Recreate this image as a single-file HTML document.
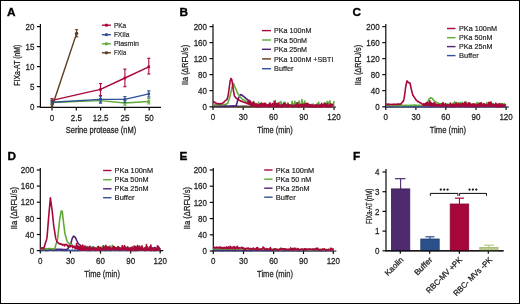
<!DOCTYPE html><html><head><meta charset="utf-8"><style>html,body{margin:0;padding:0;background:#fff;}svg{display:block;will-change:transform;}</style></head><body><svg width="520" height="304" viewBox="0 0 520 304" font-family="Liberation Sans, sans-serif">
<rect x="0" y="0" width="520" height="304" fill="#fff"/>
<rect x="0.5" y="0.5" width="519" height="303" fill="none" stroke="#000" stroke-width="1"/>
<text x="6.9" y="16.0" font-size="11.8" text-anchor="start" font-weight="bold" fill="#000" stroke="#000" stroke-width="0.35" >A</text>
<line x1="40.4" y1="24" x2="40.4" y2="107.3" stroke="#0a0a0a" stroke-width="1.2"/>
<line x1="36.9" y1="26.6" x2="40.4" y2="26.6" stroke="#0a0a0a" stroke-width="1.2"/>
<text x="34.5" y="29.700000000000003" font-size="9.2" text-anchor="end" textLength="8.9" lengthAdjust="spacingAndGlyphs" fill="#231f20" stroke="#231f20" stroke-width="0.28" >20</text>
<line x1="36.9" y1="46.6" x2="40.4" y2="46.6" stroke="#0a0a0a" stroke-width="1.2"/>
<text x="34.5" y="49.7" font-size="9.2" text-anchor="end" textLength="8.9" lengthAdjust="spacingAndGlyphs" fill="#231f20" stroke="#231f20" stroke-width="0.28" >15</text>
<line x1="36.9" y1="66.6" x2="40.4" y2="66.6" stroke="#0a0a0a" stroke-width="1.2"/>
<text x="34.5" y="69.69999999999999" font-size="9.2" text-anchor="end" textLength="8.9" lengthAdjust="spacingAndGlyphs" fill="#231f20" stroke="#231f20" stroke-width="0.28" >10</text>
<line x1="36.9" y1="86.6" x2="40.4" y2="86.6" stroke="#0a0a0a" stroke-width="1.2"/>
<text x="34.5" y="89.69999999999999" font-size="9.2" text-anchor="end" textLength="4.45" lengthAdjust="spacingAndGlyphs" fill="#231f20" stroke="#231f20" stroke-width="0.28" >5</text>
<line x1="36.9" y1="106.8" x2="40.4" y2="106.8" stroke="#0a0a0a" stroke-width="1.2"/>
<text x="34.5" y="109.89999999999999" font-size="9.2" text-anchor="end" textLength="4.45" lengthAdjust="spacingAndGlyphs" fill="#231f20" stroke="#231f20" stroke-width="0.28" >0</text>
<line x1="39.9" y1="107.4" x2="161" y2="107.4" stroke="#0a0a0a" stroke-width="1.2"/>
<line x1="52" y1="107.4" x2="52" y2="110.4" stroke="#0a0a0a" stroke-width="1.2"/>
<text x="52" y="120.5" font-size="9.2" text-anchor="middle" textLength="4.45" lengthAdjust="spacingAndGlyphs" fill="#231f20" stroke="#231f20" stroke-width="0.28" >0</text>
<line x1="76.3" y1="107.4" x2="76.3" y2="110.4" stroke="#0a0a0a" stroke-width="1.2"/>
<text x="76.3" y="120.5" font-size="9.2" text-anchor="middle" textLength="11.12" lengthAdjust="spacingAndGlyphs" fill="#231f20" stroke="#231f20" stroke-width="0.28" >2.5</text>
<line x1="100.6" y1="107.4" x2="100.6" y2="110.4" stroke="#0a0a0a" stroke-width="1.2"/>
<text x="100.6" y="120.5" font-size="9.2" text-anchor="middle" textLength="15.57" lengthAdjust="spacingAndGlyphs" fill="#231f20" stroke="#231f20" stroke-width="0.28" >12.5</text>
<line x1="124.9" y1="107.4" x2="124.9" y2="110.4" stroke="#0a0a0a" stroke-width="1.2"/>
<text x="124.9" y="120.5" font-size="9.2" text-anchor="middle" textLength="8.9" lengthAdjust="spacingAndGlyphs" fill="#231f20" stroke="#231f20" stroke-width="0.28" >25</text>
<line x1="149.2" y1="107.4" x2="149.2" y2="110.4" stroke="#0a0a0a" stroke-width="1.2"/>
<text x="149.2" y="120.5" font-size="9.2" text-anchor="middle" textLength="8.9" lengthAdjust="spacingAndGlyphs" fill="#231f20" stroke="#231f20" stroke-width="0.28" >50</text>
<text x="101" y="133.1" font-size="9.2" text-anchor="middle" textLength="70.4" lengthAdjust="spacingAndGlyphs" fill="#231f20" stroke="#231f20" stroke-width="0.28" >Serine protease (nM)</text>
<text x="20.1" y="65.2" font-size="8.8" text-anchor="middle" textLength="41" lengthAdjust="spacingAndGlyphs" fill="#231f20" transform="rotate(-90 20.1 65.2)" stroke="#231f20" stroke-width="0.28">FIXa-AT (nM)</text>
<polyline points="52.00,102.50 100.50,100.60 124.90,103.00 148.80,101.50" fill="none" stroke="#62aa3a" stroke-width="1.4" stroke-linejoin="round" />
<line x1="52" y1="101" x2="52" y2="104" stroke="#62aa3a" stroke-width="1.1"/>
<line x1="50.4" y1="101" x2="53.6" y2="101" stroke="#62aa3a" stroke-width="1.1"/>
<line x1="50.4" y1="104" x2="53.6" y2="104" stroke="#62aa3a" stroke-width="1.1"/>
<rect x="50.7" y="101.2" width="2.6" height="2.6" fill="#62aa3a"/>
<line x1="100.5" y1="98.3" x2="100.5" y2="103" stroke="#62aa3a" stroke-width="1.1"/>
<line x1="98.9" y1="98.3" x2="102.1" y2="98.3" stroke="#62aa3a" stroke-width="1.1"/>
<line x1="98.9" y1="103" x2="102.1" y2="103" stroke="#62aa3a" stroke-width="1.1"/>
<rect x="99.2" y="99.3" width="2.6" height="2.6" fill="#62aa3a"/>
<line x1="124.9" y1="100.5" x2="124.9" y2="105.2" stroke="#62aa3a" stroke-width="1.1"/>
<line x1="123.30000000000001" y1="100.5" x2="126.5" y2="100.5" stroke="#62aa3a" stroke-width="1.1"/>
<line x1="123.30000000000001" y1="105.2" x2="126.5" y2="105.2" stroke="#62aa3a" stroke-width="1.1"/>
<rect x="123.60000000000001" y="101.7" width="2.6" height="2.6" fill="#62aa3a"/>
<line x1="148.8" y1="98.5" x2="148.8" y2="103.9" stroke="#62aa3a" stroke-width="1.1"/>
<line x1="147.20000000000002" y1="98.5" x2="150.4" y2="98.5" stroke="#62aa3a" stroke-width="1.1"/>
<line x1="147.20000000000002" y1="103.9" x2="150.4" y2="103.9" stroke="#62aa3a" stroke-width="1.1"/>
<rect x="147.5" y="100.2" width="2.6" height="2.6" fill="#62aa3a"/>
<polyline points="52.00,102.20 100.50,99.40 124.90,99.40 148.80,93.90" fill="none" stroke="#2f5195" stroke-width="1.4" stroke-linejoin="round" />
<line x1="52" y1="100" x2="52" y2="104.2" stroke="#2f5195" stroke-width="1.1"/>
<line x1="50.4" y1="100" x2="53.6" y2="100" stroke="#2f5195" stroke-width="1.1"/>
<line x1="50.4" y1="104.2" x2="53.6" y2="104.2" stroke="#2f5195" stroke-width="1.1"/>
<rect x="50.7" y="100.9" width="2.6" height="2.6" fill="#2f5195"/>
<line x1="100.5" y1="96" x2="100.5" y2="103" stroke="#2f5195" stroke-width="1.1"/>
<line x1="98.9" y1="96" x2="102.1" y2="96" stroke="#2f5195" stroke-width="1.1"/>
<line x1="98.9" y1="103" x2="102.1" y2="103" stroke="#2f5195" stroke-width="1.1"/>
<rect x="99.2" y="98.10000000000001" width="2.6" height="2.6" fill="#2f5195"/>
<line x1="124.9" y1="96.6" x2="124.9" y2="102.4" stroke="#2f5195" stroke-width="1.1"/>
<line x1="123.30000000000001" y1="96.6" x2="126.5" y2="96.6" stroke="#2f5195" stroke-width="1.1"/>
<line x1="123.30000000000001" y1="102.4" x2="126.5" y2="102.4" stroke="#2f5195" stroke-width="1.1"/>
<rect x="123.60000000000001" y="98.10000000000001" width="2.6" height="2.6" fill="#2f5195"/>
<line x1="148.8" y1="90.8" x2="148.8" y2="97" stroke="#2f5195" stroke-width="1.1"/>
<line x1="147.20000000000002" y1="90.8" x2="150.4" y2="90.8" stroke="#2f5195" stroke-width="1.1"/>
<line x1="147.20000000000002" y1="97" x2="150.4" y2="97" stroke="#2f5195" stroke-width="1.1"/>
<rect x="147.5" y="92.60000000000001" width="2.6" height="2.6" fill="#2f5195"/>
<polyline points="52.00,100.40 100.50,89.40 124.90,78.00 148.80,66.80" fill="none" stroke="#a8083a" stroke-width="1.4" stroke-linejoin="round" />
<line x1="50.4" y1="98.6" x2="53.6" y2="98.6" stroke="#a8083a" stroke-width="1.1"/>
<rect x="51.2" y="99.60000000000001" width="1.6" height="1.6" fill="#a8083a"/>
<line x1="100.5" y1="83.6" x2="100.5" y2="95.7" stroke="#a8083a" stroke-width="1.1"/>
<line x1="98.9" y1="83.6" x2="102.1" y2="83.6" stroke="#a8083a" stroke-width="1.1"/>
<line x1="98.9" y1="95.7" x2="102.1" y2="95.7" stroke="#a8083a" stroke-width="1.1"/>
<rect x="99.2" y="88.10000000000001" width="2.6" height="2.6" fill="#a8083a"/>
<line x1="124.9" y1="69.1" x2="124.9" y2="86.7" stroke="#a8083a" stroke-width="1.1"/>
<line x1="123.30000000000001" y1="69.1" x2="126.5" y2="69.1" stroke="#a8083a" stroke-width="1.1"/>
<line x1="123.30000000000001" y1="86.7" x2="126.5" y2="86.7" stroke="#a8083a" stroke-width="1.1"/>
<rect x="123.60000000000001" y="76.7" width="2.6" height="2.6" fill="#a8083a"/>
<line x1="148.8" y1="58.3" x2="148.8" y2="74" stroke="#a8083a" stroke-width="1.1"/>
<line x1="147.20000000000002" y1="58.3" x2="150.4" y2="58.3" stroke="#a8083a" stroke-width="1.1"/>
<line x1="147.20000000000002" y1="74" x2="150.4" y2="74" stroke="#a8083a" stroke-width="1.1"/>
<rect x="147.5" y="65.5" width="2.6" height="2.6" fill="#a8083a"/>
<polyline points="52.00,107.00 76.60,33.40" fill="none" stroke="#5e3b1c" stroke-width="1.4" stroke-linejoin="round" />
<line x1="76.6" y1="29.7" x2="76.6" y2="36.8" stroke="#5e3b1c" stroke-width="1.1"/>
<line x1="75.0" y1="29.7" x2="78.19999999999999" y2="29.7" stroke="#5e3b1c" stroke-width="1.1"/>
<line x1="75.0" y1="36.8" x2="78.19999999999999" y2="36.8" stroke="#5e3b1c" stroke-width="1.1"/>
<circle cx="76.6" cy="33.4" r="1.7" fill="#5e3b1c"/>
<rect x="50.7" y="105.2" width="2.6" height="2.6" fill="#5e3b1c"/>
<line x1="101.9" y1="25.2" x2="110.9" y2="25.2" stroke="#a8083a" stroke-width="1.4"/>
<text x="113.9" y="27.8" font-size="7.9" text-anchor="start" textLength="12.3" lengthAdjust="spacingAndGlyphs" fill="#231f20" stroke="#231f20" stroke-width="0.2" >PKa</text>
<line x1="101.9" y1="34.7" x2="110.9" y2="34.7" stroke="#2f5195" stroke-width="1.4"/>
<text x="113.9" y="37.300000000000004" font-size="7.9" text-anchor="start" textLength="15.5" lengthAdjust="spacingAndGlyphs" fill="#231f20" stroke="#231f20" stroke-width="0.2" >FXIIa</text>
<line x1="101.9" y1="43.8" x2="110.9" y2="43.8" stroke="#62aa3a" stroke-width="1.4"/>
<text x="113.9" y="46.4" font-size="7.9" text-anchor="start" textLength="25.1" lengthAdjust="spacingAndGlyphs" fill="#231f20" stroke="#231f20" stroke-width="0.2" >Plasmin</text>
<line x1="101.9" y1="52.8" x2="110.9" y2="52.8" stroke="#5e3b1c" stroke-width="1.4"/>
<text x="113.9" y="55.4" font-size="7.9" text-anchor="start" textLength="12.3" lengthAdjust="spacingAndGlyphs" fill="#231f20" stroke="#231f20" stroke-width="0.2" >FXIa</text>
<rect x="105.0" y="23.8" width="2.8" height="2.8" fill="#a8083a"/>
<rect x="105.0" y="33.300000000000004" width="2.8" height="2.8" fill="#2f5195"/>
<rect x="105.0" y="42.4" width="2.8" height="2.8" fill="#62aa3a"/>
<rect x="105.0" y="51.4" width="2.8" height="2.8" fill="#5e3b1c"/>
<text x="179.6" y="16.3" font-size="11.8" text-anchor="start" font-weight="bold" fill="#000" stroke="#000" stroke-width="0.35" >B</text>
<line x1="213" y1="24.2" x2="213" y2="107.3" stroke="#0a0a0a" stroke-width="1.2"/>
<line x1="209.5" y1="26.6" x2="213" y2="26.6" stroke="#0a0a0a" stroke-width="1.2"/>
<text x="207" y="29.700000000000003" font-size="9.2" text-anchor="end" textLength="13.35" lengthAdjust="spacingAndGlyphs" fill="#231f20" stroke="#231f20" stroke-width="0.28" >200</text>
<line x1="209.5" y1="42.6" x2="213" y2="42.6" stroke="#0a0a0a" stroke-width="1.2"/>
<text x="207" y="45.7" font-size="9.2" text-anchor="end" textLength="13.35" lengthAdjust="spacingAndGlyphs" fill="#231f20" stroke="#231f20" stroke-width="0.28" >160</text>
<line x1="209.5" y1="58.6" x2="213" y2="58.6" stroke="#0a0a0a" stroke-width="1.2"/>
<text x="207" y="61.7" font-size="9.2" text-anchor="end" textLength="13.35" lengthAdjust="spacingAndGlyphs" fill="#231f20" stroke="#231f20" stroke-width="0.28" >120</text>
<line x1="209.5" y1="74.6" x2="213" y2="74.6" stroke="#0a0a0a" stroke-width="1.2"/>
<text x="207" y="77.69999999999999" font-size="9.2" text-anchor="end" textLength="8.9" lengthAdjust="spacingAndGlyphs" fill="#231f20" stroke="#231f20" stroke-width="0.28" >80</text>
<line x1="209.5" y1="90.6" x2="213" y2="90.6" stroke="#0a0a0a" stroke-width="1.2"/>
<text x="207" y="93.69999999999999" font-size="9.2" text-anchor="end" textLength="8.9" lengthAdjust="spacingAndGlyphs" fill="#231f20" stroke="#231f20" stroke-width="0.28" >40</text>
<line x1="209.5" y1="106.8" x2="213" y2="106.8" stroke="#0a0a0a" stroke-width="1.2"/>
<text x="207" y="109.89999999999999" font-size="9.2" text-anchor="end" textLength="4.45" lengthAdjust="spacingAndGlyphs" fill="#231f20" stroke="#231f20" stroke-width="0.28" >0</text>
<line x1="212.5" y1="107" x2="336" y2="107" stroke="#0a0a0a" stroke-width="1.2"/>
<line x1="213" y1="107" x2="213" y2="110" stroke="#0a0a0a" stroke-width="1.2"/>
<text x="213" y="120.1" font-size="9.2" text-anchor="middle" textLength="4.45" lengthAdjust="spacingAndGlyphs" fill="#231f20" stroke="#231f20" stroke-width="0.28" >0</text>
<line x1="243.2" y1="107" x2="243.2" y2="110" stroke="#0a0a0a" stroke-width="1.2"/>
<text x="243.2" y="120.1" font-size="9.2" text-anchor="middle" textLength="8.9" lengthAdjust="spacingAndGlyphs" fill="#231f20" stroke="#231f20" stroke-width="0.28" >30</text>
<line x1="273.5" y1="107" x2="273.5" y2="110" stroke="#0a0a0a" stroke-width="1.2"/>
<text x="273.5" y="120.1" font-size="9.2" text-anchor="middle" textLength="8.9" lengthAdjust="spacingAndGlyphs" fill="#231f20" stroke="#231f20" stroke-width="0.28" >60</text>
<line x1="303.8" y1="107" x2="303.8" y2="110" stroke="#0a0a0a" stroke-width="1.2"/>
<text x="303.8" y="120.1" font-size="9.2" text-anchor="middle" textLength="8.9" lengthAdjust="spacingAndGlyphs" fill="#231f20" stroke="#231f20" stroke-width="0.28" >90</text>
<line x1="334" y1="107" x2="334" y2="110" stroke="#0a0a0a" stroke-width="1.2"/>
<text x="334" y="120.1" font-size="9.2" text-anchor="middle" textLength="13.35" lengthAdjust="spacingAndGlyphs" fill="#231f20" stroke="#231f20" stroke-width="0.28" >120</text>
<text x="275" y="133.2" font-size="9.9" text-anchor="middle" textLength="35.6" lengthAdjust="spacingAndGlyphs" fill="#231f20" stroke="#231f20" stroke-width="0.28" >Time (min)</text>
<text x="188" y="65" font-size="9.2" text-anchor="middle" textLength="40.2" lengthAdjust="spacingAndGlyphs" fill="#231f20" transform="rotate(-90 188 65)" stroke="#231f20" stroke-width="0.28">IIa (&#916;RFU/s)</text>
<polyline points="213.00,106.40 214.00,106.39 215.00,106.40 216.00,106.43 217.00,106.31 218.00,106.40 219.00,106.44 220.00,106.49 221.00,106.28 222.00,106.34 223.00,106.28 224.00,106.49 225.00,106.46 226.00,106.26 227.00,106.54 228.00,106.54 229.00,106.45 230.00,106.43 231.00,106.30 232.00,106.25 233.00,106.41 234.00,106.27 235.00,106.31 236.00,106.32 237.00,106.26 238.00,106.39 239.00,106.38 240.00,106.50 241.00,106.41 242.00,106.44 243.00,106.40 244.00,106.45 245.00,106.39 246.00,106.33 247.00,106.55 248.00,106.55 249.00,106.50 250.00,106.46 251.00,106.34 252.00,106.32 253.00,106.34 254.00,106.27 255.00,106.48 256.00,106.37 257.00,106.50 258.00,106.37 259.00,106.54 260.00,106.50 261.00,106.25 262.00,106.31 263.00,106.52 264.00,106.39 265.00,106.54 266.00,106.37 267.00,106.27 268.00,106.44 269.00,106.48 270.00,106.33 271.00,106.28 272.00,106.35 273.00,106.54 274.00,106.48 275.00,106.29 276.00,106.32 277.00,106.28 278.00,106.27 279.00,106.49 280.00,106.30 281.00,106.42 282.00,106.38 283.00,106.31 284.00,106.47 285.00,106.29 286.00,106.44 287.00,106.28 288.00,106.38 289.00,106.31 290.00,106.33 291.00,106.54 292.00,106.49 293.00,106.34 294.00,106.52 295.00,106.31 296.00,106.37 297.00,106.51 298.00,106.44 299.00,106.28 300.00,106.55 301.00,106.31 302.00,106.33 303.00,106.48 304.00,106.35 305.00,106.34 306.00,106.27 307.00,106.28 308.00,106.42 309.00,106.32 310.00,106.43 311.00,106.36 312.00,106.39 313.00,106.54 314.00,106.40 315.00,106.42 316.00,106.51 317.00,106.30 318.00,106.30 319.00,106.52 320.00,106.50 321.00,106.32 322.00,106.31 323.00,106.47 324.00,106.53 325.00,106.31 326.00,106.54 327.00,106.51 328.00,106.43 329.00,106.38 330.00,106.28 331.00,106.26 332.00,106.54 333.00,106.32 334.00,106.40" fill="none" stroke="#2f5195" stroke-width="1.6" stroke-linejoin="round" />
<polyline points="213.00,106.60 214.00,106.49 215.00,106.45 216.00,106.56 217.00,106.53 218.00,106.69 219.00,106.66 220.00,106.63 221.00,106.62 222.00,106.65 223.00,106.49 224.00,106.58 225.00,106.50 226.00,106.72 227.00,106.47 228.00,106.70 229.00,106.47 230.00,106.66 231.00,106.55 232.00,106.57 233.00,106.70 234.00,106.46 235.00,106.47 236.00,106.72 237.00,106.60 238.00,106.48 239.00,106.75 240.00,106.73 241.00,106.48 242.00,106.58 243.00,106.49 244.00,106.54 245.00,106.64 246.00,106.50 247.00,106.66 248.00,106.47 249.00,106.50 250.00,106.69 251.00,106.57 252.00,106.58 253.00,106.63 254.00,106.59 255.00,106.57 256.00,106.46 257.00,106.67 258.00,106.74 259.00,106.74 260.00,106.65 261.00,106.56 262.00,106.56 263.00,106.66 264.00,106.65 265.00,106.48 266.00,106.52 267.00,106.56 268.00,106.60 269.00,106.69 270.00,106.60 271.00,106.46 272.00,106.70 273.00,106.58 274.00,106.61 275.00,106.52 276.00,106.58 277.00,106.57 278.00,106.68 279.00,106.48 280.00,106.61 281.00,106.50 282.00,106.66 283.00,106.46 284.00,106.53 285.00,106.55 286.00,106.64 287.00,106.47 288.00,106.59 289.00,106.51 290.00,106.53 291.00,106.59 292.00,106.74 293.00,106.59 294.00,106.74 295.00,106.50 296.00,106.73 297.00,106.56 298.00,106.51 299.00,106.67 300.00,106.72 301.00,106.45 302.00,106.53 303.00,106.68 304.00,106.55 305.00,106.52 306.00,106.45 307.00,106.46 308.00,106.64 309.00,106.75 310.00,106.75 311.00,106.60 312.00,106.46 313.00,106.55 314.00,106.69 315.00,106.70 316.00,106.64 317.00,106.52 318.00,106.61 319.00,106.59 320.00,106.64 321.00,106.53 322.00,106.73 323.00,106.72 324.00,106.50 325.00,106.54 326.00,106.71 327.00,106.53 328.00,106.73 329.00,106.60 330.00,106.66 331.00,106.66 332.00,106.51 333.00,106.54 334.00,106.60" fill="none" stroke="#5e3b1c" stroke-width="1.6" stroke-linejoin="round" />
<polyline points="213.00,106.00 213.80,106.21 214.60,105.81 215.40,105.84 216.20,105.79 217.00,105.84 217.80,106.14 218.60,105.78 219.40,106.02 220.20,105.83 221.00,105.88 221.80,105.96 222.60,106.20 223.40,106.07 224.20,105.71 225.00,105.87 225.80,105.79 226.60,106.22 227.40,106.19 228.20,106.18 229.00,106.20 229.80,106.15 230.60,106.27 231.40,106.18 232.20,105.85 233.00,106.21 233.80,105.99 234.60,106.15 235.40,106.04 236.00,106.00 236.20,105.36 237.00,103.00 237.80,99.72 238.00,99.00 238.60,97.90 239.40,96.42 240.20,94.90 240.50,94.60 241.00,94.89 241.80,95.04 242.00,94.90 242.60,95.71 243.40,96.23 243.50,96.20 244.20,96.89 245.00,97.60 245.80,98.43 246.60,98.74 247.00,99.30 247.40,99.73 248.20,100.23 249.00,100.90 249.80,101.27 250.60,101.84 251.40,102.59 252.00,103.00 252.20,102.93 253.00,103.35 253.80,103.74 254.60,103.91 255.40,104.05 256.00,104.50 256.20,104.50 257.00,104.35 257.80,104.36 258.60,104.35 259.40,104.46 260.20,104.30 261.00,104.65 261.80,104.85 262.60,104.52 263.40,104.73 264.20,104.86 265.00,104.34 265.80,104.41 266.60,104.82 267.40,104.85 268.20,104.74 269.00,104.46 269.80,104.63 270.60,104.91 271.40,104.93 272.20,104.89 273.00,104.54 273.80,104.94 274.60,104.66 275.40,104.88 276.20,104.54 277.00,105.05 277.80,104.84 278.60,104.92 279.40,104.63 280.20,104.88 281.00,104.87 281.80,104.89 282.60,104.76 283.40,104.99 284.20,104.77 285.00,104.75 285.80,104.68 286.60,105.00 287.40,104.67 288.20,104.75 289.00,104.66 289.80,105.02 290.60,104.98 291.40,104.98 292.20,104.69 293.00,104.94 293.80,104.89 294.60,104.75 295.40,104.71 296.20,105.31 297.00,104.80 297.80,104.92 298.60,104.91 299.40,105.11 300.20,104.81 301.00,105.06 301.80,105.01 302.60,105.30 303.40,104.81 304.20,105.02 305.00,105.13 305.80,105.42 306.60,105.16 307.40,105.14 308.20,105.27 309.00,105.06 309.80,104.91 310.60,105.20 311.40,105.46 312.20,105.36 313.00,105.09 313.80,105.35 314.60,105.46 315.40,105.12 316.20,105.32 317.00,105.20 317.80,105.14 318.60,105.17 319.40,105.14 320.20,105.23 321.00,105.06 321.80,105.28 322.60,105.11 323.40,105.52 324.20,105.43 325.00,105.09 325.80,105.56 326.60,105.22 327.40,105.40 328.20,105.46 329.00,105.34 329.80,105.32 330.60,105.42 331.40,105.25 332.20,105.70 333.00,105.25 333.80,105.69 334.00,105.50" fill="none" stroke="#4b2474" stroke-width="1.6" stroke-linejoin="round" />
<polyline points="213.00,104.90 213.70,105.14 214.40,104.72 215.10,104.69 215.80,104.95 216.50,104.89 217.20,104.65 217.90,104.86 218.60,104.67 219.30,104.87 220.00,104.46 220.70,104.50 221.40,104.88 222.10,104.53 222.80,104.45 223.50,104.76 224.20,104.63 224.90,104.32 225.60,104.54 226.00,104.50 226.30,104.36 227.00,103.50 227.70,103.23 228.00,102.90 228.40,101.35 229.10,99.17 229.80,96.71 230.00,96.30 230.50,93.80 231.20,91.01 231.90,87.41 232.00,87.00 232.60,85.85 233.30,83.84 233.50,83.40 234.00,84.68 234.70,86.55 235.40,88.15 236.00,89.50 236.10,89.49 236.80,91.35 237.50,92.96 238.00,94.00 238.20,94.11 238.90,95.11 239.60,96.62 240.00,97.00 240.30,97.28 241.00,97.72 241.70,98.50 242.00,98.80 242.40,98.91 243.10,99.75 243.80,100.06 244.50,100.31 245.00,100.90 245.20,101.19 245.90,101.12 246.60,101.60 247.30,101.81 248.00,102.60 248.70,102.59 249.40,103.20 250.00,103.50 250.10,103.61 250.80,102.87 251.50,104.45 252.20,103.44 252.90,104.86 253.60,101.26 254.30,105.19 255.00,103.59 255.70,105.55 256.00,105.12 256.40,106.06 257.10,105.31 257.80,106.36 258.50,102.35 259.20,106.36 259.90,103.63 260.60,106.12 261.30,103.11 262.00,105.65 262.70,105.06 263.40,106.10 264.10,104.88 264.80,105.92 265.50,103.52 266.20,105.80 266.90,104.85 267.60,105.86 268.30,104.65 269.00,106.38 269.70,104.64 270.40,105.95 271.10,104.40 271.80,106.41 272.50,103.99 273.20,106.34 273.90,101.07 274.60,106.11 275.30,100.63 276.00,106.17 276.70,104.81 277.40,106.06 278.10,103.20 278.80,105.85 279.50,102.27 280.20,106.05 280.90,101.50 281.60,105.90 282.30,104.84 283.00,105.81 283.70,102.26 284.40,105.83 285.10,102.33 285.80,106.24 286.50,105.22 287.20,106.25 287.90,102.71 288.60,105.94 289.30,104.87 290.00,106.42 290.70,105.37 291.40,106.48 292.10,101.34 292.80,106.08 293.50,103.99 294.20,106.41 294.90,101.39 295.60,106.00 296.30,102.76 297.00,105.76 297.70,104.68 298.40,106.16 299.10,101.02 299.80,105.97 300.50,104.17 301.20,105.77 301.90,99.49 302.60,106.52 303.30,103.24 304.00,106.10 304.70,101.07 305.40,105.81 306.10,105.11 306.80,106.44 307.50,104.17 308.20,106.22 308.90,104.37 309.60,106.53 310.30,105.42 311.00,106.27 311.70,104.23 312.40,106.36 313.10,103.98 313.80,105.98 314.50,105.47 315.20,106.21 315.90,104.99 316.60,105.93 317.30,103.58 318.00,106.53 318.70,102.18 319.40,106.29 320.10,105.65 320.80,106.40 321.50,104.91 322.20,106.19 322.90,105.31 323.60,106.36 324.30,102.71 325.00,106.42 325.70,104.79 326.40,106.25 327.10,101.63 327.80,106.54 328.50,102.28 329.20,105.99 329.90,100.73 330.60,106.31 331.30,105.17 332.00,106.44 332.70,104.69 333.40,106.19 334.00,100.98" fill="none" stroke="#62aa3a" stroke-width="1.6" stroke-linejoin="round" />
<polyline points="213.00,101.60 213.60,101.68 214.20,102.46 214.80,102.17 215.40,102.97 216.00,103.13 216.60,103.52 217.00,103.50 217.20,103.83 217.80,103.48 218.40,103.64 219.00,103.96 219.60,103.80 220.00,104.00 220.20,103.78 220.80,103.54 221.40,103.70 222.00,103.49 222.60,103.23 223.00,102.90 223.20,102.54 223.80,102.39 224.40,101.58 225.00,101.00 225.60,100.42 226.20,100.13 226.80,99.69 227.00,99.60 227.40,98.03 228.00,96.30 228.60,92.38 229.00,89.70 229.20,88.08 229.80,83.61 230.20,80.50 230.40,80.23 231.00,78.40 231.60,79.54 231.80,79.80 232.20,82.09 232.60,84.50 232.80,86.16 233.40,90.57 233.50,91.00 234.00,93.49 234.50,96.00 234.60,96.42 235.20,96.79 235.80,98.00 236.40,98.22 237.00,98.68 237.60,99.57 238.00,99.60 238.20,99.81 238.80,100.13 239.40,100.17 240.00,100.60 240.60,101.13 241.20,100.96 241.80,101.27 242.00,101.60 242.40,101.46 243.00,101.91 243.60,102.32 244.20,102.35 244.80,102.45 245.40,102.71 246.00,102.90 246.60,102.95 247.20,103.65 247.80,103.53 248.40,100.97 249.00,104.42 249.60,100.25 250.00,104.57 250.20,101.71 250.80,105.16 251.40,104.00 252.00,105.34 252.60,102.54 253.20,105.99 253.80,102.30 254.40,106.47 255.00,104.93 255.60,106.29 256.00,103.66 256.20,106.74 256.80,104.90 257.40,106.68 258.00,104.76 258.60,106.16 259.20,104.45 259.80,106.56 260.40,103.75 261.00,106.62 261.60,103.09 262.20,106.72 262.80,103.99 263.40,105.93 264.00,103.22 264.60,106.44 265.20,103.38 265.80,106.26 266.40,104.43 267.00,106.24 267.60,105.09 268.20,106.63 268.80,104.28 269.40,106.80 270.00,102.87 270.60,106.51 271.20,105.05 271.80,106.07 272.40,103.60 273.00,106.49 273.60,104.15 274.20,106.34 274.80,101.80 275.40,106.11 276.00,103.79 276.60,106.61 277.20,103.80 277.80,106.71 278.40,103.08 279.00,106.48 279.60,105.23 280.20,106.43 280.80,105.26 281.40,106.74 282.00,104.83 282.60,106.96 283.20,104.14 283.80,106.24 284.40,103.29 285.00,106.03 285.60,103.92 286.20,106.76 286.80,105.27 287.40,106.19 288.00,104.14 288.60,106.71 289.20,104.81 289.80,106.22 290.40,105.52 291.00,106.05 291.60,105.20 292.20,106.87 292.80,105.27 293.40,106.50 294.00,105.32 294.60,106.47 295.20,105.16 295.80,106.43 296.40,104.21 297.00,106.25 297.60,102.72 298.20,106.91 298.80,105.23 299.40,107.01 300.00,104.42 300.60,106.04 301.20,104.54 301.80,106.81 302.40,104.63 303.00,106.43 303.60,104.39 304.20,106.19 304.80,103.96 305.40,106.51 306.00,103.52 306.60,106.55 307.20,103.30 307.80,106.54 308.40,103.95 309.00,106.72 309.60,104.73 310.20,106.49 310.80,104.95 311.40,106.94 312.00,105.09 312.60,106.73 313.20,104.96 313.80,106.97 314.40,105.40 315.00,106.29 315.60,105.43 316.20,107.05 316.80,104.68 317.40,106.45 318.00,105.24 318.60,106.87 319.20,105.02 319.80,106.69 320.40,105.12 321.00,106.94 321.60,103.22 322.20,107.05 322.80,105.09 323.40,106.17 324.00,104.05 324.60,106.30 325.20,103.20 325.80,106.78 326.40,104.42 327.00,106.58 327.60,103.83 328.20,107.02 328.80,105.62 329.40,106.75 330.00,104.24 330.60,106.62 331.20,104.04 331.80,106.81 332.40,104.26 333.00,106.14" fill="none" stroke="#a8083a" stroke-width="1.6" stroke-linejoin="round" />
<line x1="262" y1="30.6" x2="271" y2="30.6" stroke="#a8083a" stroke-width="1.4"/>
<text x="274" y="33.2" font-size="7.9" text-anchor="start" textLength="37.5" lengthAdjust="spacingAndGlyphs" fill="#231f20" stroke="#231f20" stroke-width="0.2" >PKa 100nM</text>
<line x1="262" y1="40" x2="271" y2="40" stroke="#62aa3a" stroke-width="1.4"/>
<text x="274" y="42.6" font-size="7.9" text-anchor="start" textLength="33" lengthAdjust="spacingAndGlyphs" fill="#231f20" stroke="#231f20" stroke-width="0.2" >PKa 50nM</text>
<line x1="262" y1="49.3" x2="271" y2="49.3" stroke="#4b2474" stroke-width="1.4"/>
<text x="274" y="51.9" font-size="7.9" text-anchor="start" textLength="33" lengthAdjust="spacingAndGlyphs" fill="#231f20" stroke="#231f20" stroke-width="0.2" >PKa 25nM</text>
<line x1="262" y1="58.9" x2="271" y2="58.9" stroke="#5e3b1c" stroke-width="1.4"/>
<text x="274" y="61.5" font-size="7.9" text-anchor="start" textLength="59.4" lengthAdjust="spacingAndGlyphs" fill="#231f20" stroke="#231f20" stroke-width="0.2" >PKa 100nM +SBTI</text>
<line x1="262" y1="68.7" x2="271" y2="68.7" stroke="#2f5195" stroke-width="1.4"/>
<text x="274" y="71.3" font-size="7.9" text-anchor="start" textLength="19.5" lengthAdjust="spacingAndGlyphs" fill="#231f20" stroke="#231f20" stroke-width="0.2" >Buffer</text>
<text x="352.5" y="16.4" font-size="11.8" text-anchor="start" font-weight="bold" fill="#000" stroke="#000" stroke-width="0.35" >C</text>
<line x1="385.8" y1="23.9" x2="385.8" y2="107.3" stroke="#0a0a0a" stroke-width="1.2"/>
<line x1="382.3" y1="26.6" x2="385.8" y2="26.6" stroke="#0a0a0a" stroke-width="1.2"/>
<text x="379.6" y="29.700000000000003" font-size="9.2" text-anchor="end" textLength="13.35" lengthAdjust="spacingAndGlyphs" fill="#231f20" stroke="#231f20" stroke-width="0.28" >200</text>
<line x1="382.3" y1="42.6" x2="385.8" y2="42.6" stroke="#0a0a0a" stroke-width="1.2"/>
<text x="379.6" y="45.7" font-size="9.2" text-anchor="end" textLength="13.35" lengthAdjust="spacingAndGlyphs" fill="#231f20" stroke="#231f20" stroke-width="0.28" >160</text>
<line x1="382.3" y1="58.6" x2="385.8" y2="58.6" stroke="#0a0a0a" stroke-width="1.2"/>
<text x="379.6" y="61.7" font-size="9.2" text-anchor="end" textLength="13.35" lengthAdjust="spacingAndGlyphs" fill="#231f20" stroke="#231f20" stroke-width="0.28" >120</text>
<line x1="382.3" y1="74.6" x2="385.8" y2="74.6" stroke="#0a0a0a" stroke-width="1.2"/>
<text x="379.6" y="77.69999999999999" font-size="9.2" text-anchor="end" textLength="8.9" lengthAdjust="spacingAndGlyphs" fill="#231f20" stroke="#231f20" stroke-width="0.28" >80</text>
<line x1="382.3" y1="90.6" x2="385.8" y2="90.6" stroke="#0a0a0a" stroke-width="1.2"/>
<text x="379.6" y="93.69999999999999" font-size="9.2" text-anchor="end" textLength="8.9" lengthAdjust="spacingAndGlyphs" fill="#231f20" stroke="#231f20" stroke-width="0.28" >40</text>
<line x1="382.3" y1="106.8" x2="385.8" y2="106.8" stroke="#0a0a0a" stroke-width="1.2"/>
<text x="379.6" y="109.89999999999999" font-size="9.2" text-anchor="end" textLength="4.45" lengthAdjust="spacingAndGlyphs" fill="#231f20" stroke="#231f20" stroke-width="0.28" >0</text>
<line x1="385.3" y1="107" x2="508.8" y2="107" stroke="#0a0a0a" stroke-width="1.2"/>
<line x1="385.8" y1="107" x2="385.8" y2="110" stroke="#0a0a0a" stroke-width="1.2"/>
<text x="385.8" y="120.1" font-size="9.2" text-anchor="middle" textLength="4.45" lengthAdjust="spacingAndGlyphs" fill="#231f20" stroke="#231f20" stroke-width="0.28" >0</text>
<line x1="415.9" y1="107" x2="415.9" y2="110" stroke="#0a0a0a" stroke-width="1.2"/>
<text x="415.9" y="120.1" font-size="9.2" text-anchor="middle" textLength="8.9" lengthAdjust="spacingAndGlyphs" fill="#231f20" stroke="#231f20" stroke-width="0.28" >30</text>
<line x1="445.8" y1="107" x2="445.8" y2="110" stroke="#0a0a0a" stroke-width="1.2"/>
<text x="445.8" y="120.1" font-size="9.2" text-anchor="middle" textLength="8.9" lengthAdjust="spacingAndGlyphs" fill="#231f20" stroke="#231f20" stroke-width="0.28" >60</text>
<line x1="476" y1="107" x2="476" y2="110" stroke="#0a0a0a" stroke-width="1.2"/>
<text x="476" y="120.1" font-size="9.2" text-anchor="middle" textLength="8.9" lengthAdjust="spacingAndGlyphs" fill="#231f20" stroke="#231f20" stroke-width="0.28" >90</text>
<line x1="506.1" y1="107" x2="506.1" y2="110" stroke="#0a0a0a" stroke-width="1.2"/>
<text x="506.1" y="120.1" font-size="9.2" text-anchor="middle" textLength="13.35" lengthAdjust="spacingAndGlyphs" fill="#231f20" stroke="#231f20" stroke-width="0.28" >120</text>
<text x="447.9" y="133.2" font-size="9.9" text-anchor="middle" textLength="36.3" lengthAdjust="spacingAndGlyphs" fill="#231f20" stroke="#231f20" stroke-width="0.28" >Time (min)</text>
<text x="361.3" y="65" font-size="9.2" text-anchor="middle" textLength="40.3" lengthAdjust="spacingAndGlyphs" fill="#231f20" transform="rotate(-90 361.3 65)" stroke="#231f20" stroke-width="0.28">IIa (&#916;RFU/s)</text>
<polyline points="386.00,106.60 387.00,106.59 388.00,106.51 389.00,106.69 390.00,106.69 391.00,106.60 392.00,106.60 393.00,106.52 394.00,106.45 395.00,106.56 396.00,106.63 397.00,106.47 398.00,106.69 399.00,106.52 400.00,106.52 401.00,106.46 402.00,106.75 403.00,106.67 404.00,106.71 405.00,106.63 406.00,106.46 407.00,106.55 408.00,106.60 409.00,106.48 410.00,106.74 411.00,106.56 412.00,106.50 413.00,106.70 414.00,106.49 415.00,106.73 416.00,106.59 417.00,106.62 418.00,106.55 419.00,106.60 420.00,106.51 421.00,106.46 422.00,106.71 423.00,106.52 424.00,106.68 425.00,106.51 426.00,106.74 427.00,106.72 428.00,106.68 429.00,106.68 430.00,106.62 431.00,106.67 432.00,106.49 433.00,106.59 434.00,106.70 435.00,106.51 436.00,106.73 437.00,106.72 438.00,106.57 439.00,106.56 440.00,106.59 441.00,106.57 442.00,106.75 443.00,106.57 444.00,106.46 445.00,106.48 446.00,106.67 447.00,106.75 448.00,106.60 449.00,106.60 450.00,106.62 451.00,106.67 452.00,106.52 453.00,106.63 454.00,106.62 455.00,106.64 456.00,106.50 457.00,106.50 458.00,106.55 459.00,106.73 460.00,106.55 461.00,106.63 462.00,106.54 463.00,106.48 464.00,106.47 465.00,106.69 466.00,106.68 467.00,106.56 468.00,106.66 469.00,106.65 470.00,106.72 471.00,106.74 472.00,106.57 473.00,106.75 474.00,106.74 475.00,106.63 476.00,106.71 477.00,106.60 478.00,106.56 479.00,106.52 480.00,106.71 481.00,106.50 482.00,106.47 483.00,106.69 484.00,106.68 485.00,106.59 486.00,106.70 487.00,106.47 488.00,106.53 489.00,106.54 490.00,106.58 491.00,106.50 492.00,106.47 493.00,106.55 494.00,106.72 495.00,106.75 496.00,106.67 497.00,106.59 498.00,106.53 499.00,106.74 500.00,106.61 501.00,106.67 502.00,106.46 503.00,106.51 504.00,106.70 505.00,106.69 506.00,106.60" fill="none" stroke="#4b2474" stroke-width="1.6" stroke-linejoin="round" />
<polyline points="386.00,106.40 387.00,106.55 388.00,106.31 389.00,106.29 390.00,106.45 391.00,106.35 392.00,106.52 393.00,106.32 394.00,106.54 395.00,106.35 396.00,106.43 397.00,106.53 398.00,106.46 399.00,106.53 400.00,106.46 401.00,106.26 402.00,106.51 403.00,106.43 404.00,106.34 405.00,106.31 406.00,106.50 407.00,106.42 408.00,106.53 409.00,106.48 410.00,106.54 411.00,106.42 412.00,106.46 413.00,106.43 414.00,106.33 415.00,106.54 416.00,106.34 417.00,106.48 418.00,106.54 419.00,106.45 420.00,106.29 421.00,106.50 422.00,106.45 423.00,106.31 424.00,106.26 425.00,106.41 426.00,106.26 427.00,106.53 428.00,106.40 429.00,106.41 430.00,106.37 431.00,106.45 432.00,106.52 433.00,106.34 434.00,106.36 435.00,106.42 436.00,106.34 437.00,106.43 438.00,106.41 439.00,106.38 440.00,106.45 441.00,106.41 442.00,106.28 443.00,106.55 444.00,106.36 445.00,106.38 446.00,106.37 447.00,106.53 448.00,106.54 449.00,106.40 450.00,106.37 451.00,106.28 452.00,106.52 453.00,106.30 454.00,106.41 455.00,106.35 456.00,106.35 457.00,106.36 458.00,106.31 459.00,106.26 460.00,106.41 461.00,106.49 462.00,106.44 463.00,106.31 464.00,106.46 465.00,106.27 466.00,106.37 467.00,106.50 468.00,106.53 469.00,106.39 470.00,106.50 471.00,106.40 472.00,106.41 473.00,106.43 474.00,106.55 475.00,106.47 476.00,106.39 477.00,106.47 478.00,106.44 479.00,106.36 480.00,106.49 481.00,106.50 482.00,106.43 483.00,106.53 484.00,106.26 485.00,106.40 486.00,106.44 487.00,106.35 488.00,106.30 489.00,106.46 490.00,106.38 491.00,106.33 492.00,106.26 493.00,106.54 494.00,106.36 495.00,106.29 496.00,106.31 497.00,106.33 498.00,106.51 499.00,106.30 500.00,106.33 501.00,106.28 502.00,106.39 503.00,106.31 504.00,106.35 505.00,106.47 506.00,106.40" fill="none" stroke="#2f5195" stroke-width="1.6" stroke-linejoin="round" />
<polyline points="386.00,105.50 386.70,105.25 387.40,105.55 388.10,105.44 388.80,105.50 389.50,105.26 390.20,105.29 390.90,105.44 391.60,105.30 392.30,105.44 393.00,105.18 393.70,105.21 394.40,105.58 395.10,105.41 395.80,105.46 396.50,105.59 397.20,105.36 397.90,105.18 398.60,105.61 399.30,105.49 400.00,105.52 400.70,105.50 401.40,105.71 402.10,105.34 402.80,105.57 403.50,105.33 404.20,105.45 404.90,105.50 405.60,105.29 406.30,105.15 407.00,105.38 407.70,105.52 408.40,105.44 409.10,105.35 409.80,105.47 410.50,105.19 411.20,105.18 411.90,105.26 412.60,105.56 413.30,105.18 414.00,105.13 414.70,105.12 415.40,105.08 416.10,105.21 416.80,105.39 417.50,105.53 418.20,105.24 418.90,105.26 419.60,105.21 420.30,105.21 421.00,105.49 421.70,105.35 422.40,105.17 423.10,105.08 423.80,105.48 424.50,105.43 425.20,105.50 425.90,105.14 426.00,105.30 426.60,104.33 427.30,103.38 427.50,102.80 428.00,101.69 428.70,100.27 429.00,99.30 429.40,98.70 430.10,98.49 430.50,97.80 430.80,97.63 431.50,98.08 432.00,98.30 432.20,98.23 432.90,99.48 433.60,100.17 434.00,100.50 434.30,101.04 435.00,101.53 435.70,102.21 436.00,102.20 436.40,102.38 437.10,102.93 437.80,103.07 438.50,103.11 439.20,103.76 439.90,103.69 440.00,103.80 440.60,103.76 441.30,103.85 442.00,104.25 442.70,104.25 443.00,104.50 443.40,104.76 444.10,104.78 444.80,104.35 445.50,104.05 446.20,104.14 446.90,104.01 447.60,105.03 448.30,104.37 449.00,104.94 449.70,104.80 450.40,104.81 451.10,103.68 451.80,104.49 452.50,104.67 453.20,103.03 453.90,104.42 454.60,101.93 455.30,104.13 456.00,102.48 456.70,104.62 457.40,103.52 458.10,102.64 458.80,104.32 459.50,104.29 460.20,102.47 460.90,104.68 461.60,104.75 462.30,102.26 463.00,104.23 463.70,105.17 464.40,105.07 465.10,103.55 465.80,101.50 466.50,104.57 467.20,104.67 467.90,104.75 468.60,104.07 469.30,102.79 470.00,103.77 470.70,104.35 471.40,104.75 472.10,104.53 472.80,104.53 473.50,103.94 474.20,104.58 474.90,104.43 475.60,104.37 476.30,104.74 477.00,102.61 477.70,102.97 478.40,105.02 479.10,103.08 479.80,104.87 480.50,105.00 481.20,105.31 481.90,104.48 482.60,104.45 483.30,104.60 484.00,104.74 484.70,105.00 485.40,104.89 486.10,105.16 486.80,102.83 487.50,105.57 488.20,104.56 488.90,105.34 489.60,104.47 490.30,105.29 491.00,103.40 491.70,102.99 492.40,105.44 493.10,103.88 493.80,105.27 494.50,104.68 495.20,105.17 495.90,105.13 496.60,105.01 497.30,105.61 498.00,105.30 498.70,104.59 499.40,105.00 500.10,103.44 500.80,105.71 501.50,105.40 502.20,103.64 502.90,104.64 503.60,105.19 504.30,103.59 505.00,104.76 505.70,104.97 506.00,105.50" fill="none" stroke="#62aa3a" stroke-width="1.6" stroke-linejoin="round" />
<polyline points="386.00,104.40 386.60,104.74 387.20,104.17 387.80,104.50 388.40,104.08 389.00,104.54 389.60,104.11 390.20,104.49 390.80,104.49 391.40,104.51 392.00,104.28 392.60,104.57 393.20,104.65 393.80,104.03 394.40,104.30 395.00,104.60 395.60,104.44 396.20,104.22 396.80,104.12 397.40,104.57 398.00,103.95 398.60,104.41 399.20,104.46 399.80,103.98 400.40,104.09 401.00,104.20 401.60,103.10 402.00,102.60 402.20,102.39 402.80,101.55 403.40,101.20 403.50,100.80 404.00,98.70 404.50,96.00 404.60,95.07 405.20,90.68 405.50,88.00 405.80,86.28 406.40,83.46 407.00,80.90 407.60,81.62 408.20,82.31 408.50,82.40 408.80,82.74 409.40,83.10 410.00,83.00 410.60,86.05 411.20,88.44 411.50,90.00 411.80,91.27 412.40,93.60 413.00,95.50 413.60,96.06 414.20,97.18 414.50,97.60 414.80,97.84 415.40,98.79 416.00,100.00 416.60,100.44 417.20,101.02 417.80,101.68 418.00,101.50 418.40,101.44 419.00,102.00 419.60,102.65 420.00,102.50 420.20,102.83 420.80,103.08 421.40,103.30 422.00,103.99 422.60,104.15 423.00,104.60 423.20,105.26 423.80,103.70 424.40,105.48 425.00,103.87 425.60,105.58 426.20,102.72 426.80,105.26 427.40,102.27 428.00,104.95 428.60,103.79 429.20,105.41 429.80,100.80 430.40,105.75 431.00,102.50 431.60,105.68 432.20,103.66 432.80,105.40 433.40,103.02 434.00,106.15 434.60,102.90 435.20,105.33 435.80,104.26 436.40,106.08 437.00,104.26 437.60,106.36 438.20,104.65 438.80,106.29 439.40,104.48 440.00,106.00 440.60,105.05 441.20,105.67 441.80,103.72 442.40,106.14 443.00,102.44 443.60,105.79 444.20,105.05 444.80,105.67 445.40,103.58 446.00,106.32 446.60,105.26 447.20,106.42 447.80,104.60 448.40,106.13 449.00,105.29 449.60,106.13 450.20,103.10 450.80,106.09 451.40,104.75 452.00,106.63 452.60,104.40 453.20,105.98 453.80,104.23 454.40,106.61 455.00,104.63 455.60,105.88 456.20,103.18 456.80,106.40 457.40,104.25 458.00,105.89 458.60,103.88 459.20,106.64 459.80,104.13 460.40,106.00 461.00,104.00 461.60,105.82 462.20,103.45 462.80,106.40 463.40,103.72 464.00,106.35 464.60,102.29 465.20,105.91 465.80,102.93 466.40,106.62 467.00,104.59 467.60,106.25 468.20,102.89 468.80,105.92 469.40,103.28 470.00,106.20 470.60,103.52 471.20,106.62 471.80,104.88 472.40,106.26 473.00,103.75 473.60,106.67 474.20,104.09 474.80,106.49 475.40,104.37 476.00,106.07 476.60,105.18 477.20,106.40 477.80,104.34 478.40,106.54 479.00,103.81 479.60,106.33 480.20,103.11 480.80,106.17 481.40,102.69 482.00,105.87 482.60,104.67 483.20,105.81 483.80,103.51 484.40,106.22 485.00,104.37 485.60,106.65 486.20,104.62 486.80,106.09 487.40,105.18 488.00,105.86 488.60,102.51 489.20,106.52 489.80,102.41 490.40,106.17 491.00,101.96 491.60,106.14 492.20,105.03 492.80,106.07 493.40,104.03 494.00,106.43 494.60,104.76 495.20,106.30 495.80,103.11 496.40,106.44 497.00,104.29 497.60,106.30 498.20,104.03 498.80,106.61 499.40,103.85 500.00,106.36 500.60,105.04 501.20,106.65 501.80,103.76 502.40,105.92 503.00,104.93 503.60,106.21 504.20,105.05 504.80,106.03 505.40,104.33" fill="none" stroke="#a8083a" stroke-width="1.6" stroke-linejoin="round" />
<line x1="447" y1="28.5" x2="455.5" y2="28.5" stroke="#a8083a" stroke-width="1.4"/>
<text x="459" y="31.1" font-size="7.9" text-anchor="start" textLength="38" lengthAdjust="spacingAndGlyphs" fill="#231f20" stroke="#231f20" stroke-width="0.2" >PKa 100nM</text>
<line x1="447" y1="37.7" x2="455.5" y2="37.7" stroke="#62aa3a" stroke-width="1.4"/>
<text x="459" y="40.300000000000004" font-size="7.9" text-anchor="start" textLength="33.5" lengthAdjust="spacingAndGlyphs" fill="#231f20" stroke="#231f20" stroke-width="0.2" >PKa 50nM</text>
<line x1="447" y1="46.6" x2="455.5" y2="46.6" stroke="#4b2474" stroke-width="1.4"/>
<text x="459" y="49.2" font-size="7.9" text-anchor="start" textLength="33.5" lengthAdjust="spacingAndGlyphs" fill="#231f20" stroke="#231f20" stroke-width="0.2" >PKa 25nM</text>
<line x1="447" y1="55.6" x2="455.5" y2="55.6" stroke="#2f5195" stroke-width="1.4"/>
<text x="459" y="58.2" font-size="7.9" text-anchor="start" textLength="19.8" lengthAdjust="spacingAndGlyphs" fill="#231f20" stroke="#231f20" stroke-width="0.2" >Buffer</text>
<text x="7.6" y="160.2" font-size="11.8" text-anchor="start" font-weight="bold" fill="#000" stroke="#000" stroke-width="0.35" >D</text>
<line x1="40.3" y1="167.9" x2="40.3" y2="251.1" stroke="#0a0a0a" stroke-width="1.2"/>
<line x1="36.8" y1="170" x2="40.3" y2="170" stroke="#0a0a0a" stroke-width="1.2"/>
<text x="34.2" y="173.1" font-size="9.2" text-anchor="end" textLength="13.35" lengthAdjust="spacingAndGlyphs" fill="#231f20" stroke="#231f20" stroke-width="0.28" >200</text>
<line x1="36.8" y1="186.1" x2="40.3" y2="186.1" stroke="#0a0a0a" stroke-width="1.2"/>
<text x="34.2" y="189.2" font-size="9.2" text-anchor="end" textLength="13.35" lengthAdjust="spacingAndGlyphs" fill="#231f20" stroke="#231f20" stroke-width="0.28" >160</text>
<line x1="36.8" y1="202.2" x2="40.3" y2="202.2" stroke="#0a0a0a" stroke-width="1.2"/>
<text x="34.2" y="205.29999999999998" font-size="9.2" text-anchor="end" textLength="13.35" lengthAdjust="spacingAndGlyphs" fill="#231f20" stroke="#231f20" stroke-width="0.28" >120</text>
<line x1="36.8" y1="218.4" x2="40.3" y2="218.4" stroke="#0a0a0a" stroke-width="1.2"/>
<text x="34.2" y="221.5" font-size="9.2" text-anchor="end" textLength="8.9" lengthAdjust="spacingAndGlyphs" fill="#231f20" stroke="#231f20" stroke-width="0.28" >80</text>
<line x1="36.8" y1="234.5" x2="40.3" y2="234.5" stroke="#0a0a0a" stroke-width="1.2"/>
<text x="34.2" y="237.6" font-size="9.2" text-anchor="end" textLength="8.9" lengthAdjust="spacingAndGlyphs" fill="#231f20" stroke="#231f20" stroke-width="0.28" >40</text>
<line x1="36.8" y1="250.6" x2="40.3" y2="250.6" stroke="#0a0a0a" stroke-width="1.2"/>
<text x="34.2" y="253.7" font-size="9.2" text-anchor="end" textLength="4.45" lengthAdjust="spacingAndGlyphs" fill="#231f20" stroke="#231f20" stroke-width="0.28" >0</text>
<line x1="39.8" y1="250.6" x2="163.3" y2="250.6" stroke="#0a0a0a" stroke-width="1.2"/>
<line x1="40.3" y1="250.6" x2="40.3" y2="253.6" stroke="#0a0a0a" stroke-width="1.2"/>
<text x="40.3" y="263.7" font-size="9.2" text-anchor="middle" textLength="4.45" lengthAdjust="spacingAndGlyphs" fill="#231f20" stroke="#231f20" stroke-width="0.28" >0</text>
<line x1="70.4" y1="250.6" x2="70.4" y2="253.6" stroke="#0a0a0a" stroke-width="1.2"/>
<text x="70.4" y="263.7" font-size="9.2" text-anchor="middle" textLength="8.9" lengthAdjust="spacingAndGlyphs" fill="#231f20" stroke="#231f20" stroke-width="0.28" >30</text>
<line x1="100.5" y1="250.6" x2="100.5" y2="253.6" stroke="#0a0a0a" stroke-width="1.2"/>
<text x="100.5" y="263.7" font-size="9.2" text-anchor="middle" textLength="8.9" lengthAdjust="spacingAndGlyphs" fill="#231f20" stroke="#231f20" stroke-width="0.28" >60</text>
<line x1="130.7" y1="250.6" x2="130.7" y2="253.6" stroke="#0a0a0a" stroke-width="1.2"/>
<text x="130.7" y="263.7" font-size="9.2" text-anchor="middle" textLength="8.9" lengthAdjust="spacingAndGlyphs" fill="#231f20" stroke="#231f20" stroke-width="0.28" >90</text>
<line x1="160.2" y1="250.6" x2="160.2" y2="253.6" stroke="#0a0a0a" stroke-width="1.2"/>
<text x="160.2" y="263.7" font-size="9.2" text-anchor="middle" textLength="13.35" lengthAdjust="spacingAndGlyphs" fill="#231f20" stroke="#231f20" stroke-width="0.28" >120</text>
<text x="102.1" y="276.9" font-size="9.9" text-anchor="middle" textLength="35.8" lengthAdjust="spacingAndGlyphs" fill="#231f20" stroke="#231f20" stroke-width="0.28" >Time (min)</text>
<text x="17.1" y="208.1" font-size="9.2" text-anchor="middle" textLength="42.4" lengthAdjust="spacingAndGlyphs" fill="#231f20" transform="rotate(-90 17.1 208.1)" stroke="#231f20" stroke-width="0.28">IIa (&#916;RFU/s)</text>
<polyline points="40.30,250.30 41.30,250.36 42.30,250.19 43.30,250.18 44.30,250.22 45.30,250.38 46.30,250.19 47.30,250.37 48.30,250.35 49.30,250.19 50.30,250.31 51.30,250.28 52.30,250.27 53.30,250.45 54.30,250.18 55.30,250.16 56.30,250.43 57.30,250.27 58.30,250.21 59.30,250.25 60.30,250.26 61.30,250.44 62.30,250.21 63.30,250.22 64.30,250.33 65.30,250.31 66.30,250.44 67.30,250.40 68.30,250.26 69.30,250.21 70.30,250.40 71.30,250.45 72.30,250.16 73.30,250.37 74.30,250.41 75.30,250.35 76.30,250.22 77.30,250.39 78.30,250.37 79.30,250.21 80.30,250.34 81.30,250.22 82.30,250.16 83.30,250.25 84.30,250.25 85.30,250.27 86.30,250.34 87.30,250.40 88.30,250.44 89.30,250.44 90.30,250.45 91.30,250.39 92.30,250.24 93.30,250.20 94.30,250.34 95.30,250.31 96.30,250.35 97.30,250.18 98.30,250.21 99.30,250.43 100.30,250.33 101.30,250.36 102.30,250.18 103.30,250.27 104.30,250.42 105.30,250.34 106.30,250.45 107.30,250.21 108.30,250.29 109.30,250.39 110.30,250.28 111.30,250.39 112.30,250.32 113.30,250.19 114.30,250.18 115.30,250.44 116.30,250.19 117.30,250.21 118.30,250.25 119.30,250.36 120.30,250.41 121.30,250.29 122.30,250.30 123.30,250.39 124.30,250.23 125.30,250.26 126.30,250.33 127.30,250.34 128.30,250.16 129.30,250.18 130.30,250.19 131.30,250.37 132.30,250.36 133.30,250.44 134.30,250.38 135.30,250.23 136.30,250.38 137.30,250.45 138.30,250.25 139.30,250.15 140.30,250.26 141.30,250.23 142.30,250.20 143.30,250.16 144.30,250.19 145.30,250.41 146.30,250.16 147.30,250.33 148.30,250.21 149.30,250.21 150.30,250.40 151.30,250.24 152.30,250.21 153.30,250.29 154.30,250.36 155.30,250.31 156.30,250.41 157.30,250.27 158.30,250.31 159.30,250.37 160.00,250.30" fill="none" stroke="#2f5195" stroke-width="1.6" stroke-linejoin="round" />
<polyline points="40.30,249.50 41.00,249.74 41.70,249.50 42.40,249.63 43.10,249.26 43.80,249.51 44.50,249.71 45.20,249.51 45.90,249.77 46.60,249.73 47.30,249.42 48.00,249.20 48.70,249.65 49.40,249.28 50.10,249.21 50.80,249.64 51.50,249.71 52.20,249.70 52.90,249.77 53.60,249.32 54.30,249.25 55.00,249.27 55.70,249.79 56.40,249.27 57.10,249.30 57.80,249.21 58.50,249.23 59.20,249.22 59.90,249.41 60.60,249.30 61.30,249.39 62.00,249.76 62.70,249.30 63.40,249.69 64.10,249.64 64.80,249.54 65.50,249.55 66.20,249.66 66.70,249.50 66.90,249.42 67.60,248.74 68.20,248.50 68.30,248.22 69.00,246.96 69.70,245.84 70.40,244.98 70.80,244.00 71.10,242.80 71.80,239.88 72.30,238.20 72.50,237.83 73.20,236.77 73.30,236.40 73.90,236.31 74.30,236.30 74.60,236.85 75.30,237.47 75.50,238.00 76.00,238.74 76.50,240.00 76.70,240.54 77.40,241.71 78.00,243.30 78.10,243.28 78.80,244.00 79.50,244.56 80.20,245.14 80.70,245.90 80.90,245.70 81.60,246.61 82.30,246.79 83.00,247.29 83.70,247.36 84.40,247.98 85.00,248.00 85.10,248.36 85.80,248.04 86.50,247.75 87.20,247.01 87.90,248.06 88.60,248.38 89.30,247.71 90.00,246.33 90.70,248.19 91.40,248.39 92.10,248.59 92.80,247.20 93.50,247.81 94.20,247.74 94.90,248.65 95.60,248.46 96.30,248.18 97.00,248.09 97.70,247.75 98.40,246.51 99.10,248.47 99.80,248.52 100.50,247.88 101.20,248.73 101.90,248.02 102.60,248.26 103.30,247.82 104.00,248.08 104.70,246.83 105.40,248.36 106.10,248.73 106.80,247.95 107.50,248.88 108.20,246.90 108.90,248.89 109.60,248.24 110.30,247.37 111.00,248.57 111.70,247.98 112.40,248.48 113.10,248.71 113.80,248.38 114.50,248.65 115.20,248.15 115.90,247.79 116.60,248.44 117.30,248.91 118.00,249.04 118.70,247.25 119.40,248.57 120.10,248.23 120.80,248.88 121.50,248.39 122.20,248.44 122.90,247.97 123.60,248.32 124.30,247.07 125.00,248.99 125.70,247.07 126.40,248.52 127.10,248.72 127.80,248.26 128.50,248.75 129.20,249.13 129.90,249.00 130.60,247.66 131.30,248.90 132.00,249.05 132.70,248.93 133.40,248.08 134.10,247.73 134.80,249.20 135.50,249.05 136.20,249.07 136.90,248.58 137.60,248.76 138.30,248.54 139.00,248.51 139.70,249.16 140.40,248.78 141.10,249.47 141.80,247.99 142.50,249.04 143.20,248.69 143.90,248.96 144.60,248.19 145.30,249.28 146.00,248.68 146.70,249.42 147.40,248.72 148.10,249.26 148.80,248.53 149.50,248.84 150.20,247.81 150.90,248.85 151.60,249.39 152.30,248.15 153.00,249.38 153.70,247.92 154.40,247.86 155.10,247.63 155.80,249.68 156.50,249.19 157.20,249.70 157.90,249.72 158.60,249.72 159.30,248.13 160.00,249.50" fill="none" stroke="#4b2474" stroke-width="1.6" stroke-linejoin="round" />
<polyline points="40.30,248.70 40.90,248.57 41.50,248.79 42.10,248.93 42.70,248.95 43.30,248.51 43.90,248.79 44.50,248.77 45.10,248.70 45.70,248.98 46.30,248.72 46.90,248.67 47.50,248.97 48.10,248.78 48.70,248.58 49.30,248.59 49.90,248.70 50.50,248.43 51.10,248.76 51.70,248.84 52.30,248.66 52.90,248.91 53.50,248.96 54.10,248.73 54.70,248.81 54.80,248.70 55.30,246.69 55.90,244.53 56.50,242.95 57.10,240.40 57.70,238.40 58.30,232.47 58.90,227.12 59.50,221.27 59.70,219.20 60.10,216.84 60.70,213.76 61.20,211.20 61.30,211.05 61.90,211.06 62.20,211.20 62.50,213.48 63.10,218.93 63.60,223.20 63.70,223.87 64.30,228.63 64.90,233.40 65.50,235.52 66.10,237.78 66.70,240.04 66.80,240.70 67.30,241.53 67.90,242.19 68.50,242.81 69.10,243.29 69.50,244.00 69.70,243.89 70.30,244.16 70.90,244.57 71.50,244.71 72.10,245.13 72.70,245.38 73.30,245.67 73.40,245.90 73.90,246.15 74.50,246.22 75.10,246.42 75.70,246.55 76.30,246.85 76.90,247.18 77.50,247.09 78.10,246.88 78.70,247.44 79.30,247.31 79.90,247.39 80.00,247.93 80.50,248.47 81.10,247.61 81.70,247.59 82.30,248.15 82.90,247.99 83.50,245.92 84.10,248.61 84.70,247.48 85.30,248.43 85.90,246.13 86.50,246.95 87.10,248.40 87.70,248.49 88.30,248.48 88.90,248.55 89.50,248.22 90.10,248.55 90.70,247.92 91.30,247.87 91.90,247.70 92.50,247.13 93.10,248.49 93.70,248.77 94.30,247.59 94.90,248.08 95.50,248.36 96.10,247.63 96.70,248.31 97.30,248.06 97.90,248.51 98.50,248.79 99.10,248.32 99.70,248.68 100.30,247.20 100.90,248.07 101.50,247.72 102.10,247.34 102.70,246.06 103.30,248.34 103.90,247.96 104.50,247.80 105.10,247.17 105.70,247.57 106.30,246.58 106.90,247.35 107.50,248.92 108.10,247.89 108.70,248.53 109.30,248.16 109.90,245.83 110.50,248.40 111.10,248.25 111.70,247.89 112.30,245.38 112.90,248.33 113.50,248.16 114.10,248.92 114.70,248.12 115.30,248.98 115.90,248.38 116.50,247.97 117.10,247.63 117.70,248.07 118.30,247.40 118.90,248.31 119.50,248.52 120.10,249.00 120.70,248.02 121.30,249.11 121.90,248.56 122.50,248.64 123.10,249.13 123.70,248.55 124.30,248.60 124.90,248.30 125.50,248.45 126.10,248.34 126.70,248.35 127.30,249.11 127.90,247.87 128.50,247.76 129.10,249.06 129.70,248.17 130.30,248.41 130.90,248.37 131.50,248.82 132.10,249.04 132.70,248.84 133.30,246.69 133.90,247.57 134.50,248.16 135.10,248.47 135.70,248.62 136.30,247.49 136.90,246.26 137.50,249.00 138.10,248.44 138.70,248.23 139.30,245.88 139.90,248.19 140.50,249.13 141.10,247.38 141.70,248.88 142.30,247.29 142.90,248.89 143.50,249.23 144.10,248.99 144.70,248.41 145.30,247.36 145.90,248.46 146.50,247.50 147.10,248.47 147.70,249.11 148.30,248.63 148.90,248.68 149.50,248.48 150.10,248.38 150.70,249.18 151.30,249.21 151.90,248.78 152.50,249.08 153.10,249.17 153.70,249.45 154.30,249.38 154.90,248.79 155.50,248.78 156.10,249.41 156.70,249.45 157.30,247.89 157.90,249.44 158.50,248.63 159.10,249.03 159.70,248.53 160.00,247.79" fill="none" stroke="#62aa3a" stroke-width="1.6" stroke-linejoin="round" />
<polyline points="40.30,247.90 40.85,248.18 41.40,248.17 41.95,247.81 42.50,248.21 43.05,247.85 43.60,247.76 44.00,247.90 44.15,247.12 44.70,245.62 45.25,243.56 45.80,241.85 46.35,240.28 46.90,238.40 47.45,232.08 48.00,225.54 48.55,218.56 48.90,214.70 49.10,212.15 49.65,206.13 50.20,200.18 50.40,197.90 50.75,200.65 51.30,204.56 51.85,208.60 52.20,210.80 52.40,212.84 52.95,218.30 53.50,223.49 53.80,226.60 54.05,227.94 54.60,231.11 55.15,234.59 55.70,237.89 55.80,238.40 56.25,239.80 56.80,241.32 57.00,242.00 57.35,242.18 57.90,242.42 58.45,243.19 59.00,243.39 59.55,243.87 59.70,243.80 60.10,244.13 60.65,243.92 61.20,243.96 61.75,244.24 62.30,245.12 62.85,244.58 63.40,244.64 63.95,244.45 64.50,245.86 65.05,244.62 65.60,244.73 66.15,244.42 66.70,244.27 67.25,245.57 67.80,246.50 68.35,246.71 68.90,245.43 69.45,246.06 70.00,246.78 70.55,246.30 71.10,246.33 71.65,246.22 72.20,245.60 72.75,247.67 73.30,247.19 73.85,246.90 74.40,246.39 74.95,248.17 75.00,247.94 75.50,246.92 76.05,248.47 76.60,243.53 77.15,248.98 77.70,245.93 78.25,249.53 78.80,246.56 79.35,249.53 79.90,247.49 80.00,249.79 80.45,245.88 81.00,250.25 81.55,248.10 82.10,250.14 82.65,245.07 83.20,250.27 83.75,248.09 84.30,250.07 84.85,246.11 85.40,250.04 85.95,247.84 86.50,249.61 87.05,247.42 87.60,249.81 88.15,247.11 88.70,249.87 89.25,247.68 89.80,250.27 90.35,248.22 90.90,249.64 91.45,247.51 92.00,250.03 92.55,248.89 93.10,249.52 93.65,247.02 94.20,249.45 94.75,247.98 95.30,250.22 95.85,248.37 96.40,250.21 96.95,248.78 97.50,249.53 98.05,246.60 98.60,250.33 99.15,247.60 99.70,249.42 100.25,247.62 100.80,250.05 101.35,248.35 101.90,249.70 102.45,248.67 103.00,249.57 103.55,245.92 104.10,250.07 104.65,248.43 105.20,249.42 105.75,245.25 106.30,249.77 106.85,247.36 107.40,249.57 107.95,247.10 108.50,249.67 109.05,247.42 109.60,250.15 110.15,247.41 110.70,249.65 111.25,248.78 111.80,249.65 112.35,247.86 112.90,249.54 113.45,246.25 114.00,249.60 114.55,246.84 115.10,249.50 115.65,247.84 116.20,249.71 116.75,248.19 117.30,249.58 117.85,246.44 118.40,249.89 118.95,247.34 119.50,250.20 120.05,248.47 120.60,249.56 121.15,248.07 121.70,250.03 122.25,245.71 122.80,249.76 123.35,249.04 123.90,249.49 124.45,245.44 125.00,249.53 125.55,248.47 126.10,250.01 126.65,248.04 127.20,250.07 127.75,246.76 128.30,250.32 128.85,248.66 129.40,250.42 129.95,248.15 130.50,250.39 131.05,248.39 131.60,249.60 132.15,247.04 132.70,249.99 133.25,249.09 133.80,249.86 134.35,245.96 134.90,250.31 135.45,246.63 136.00,250.47 136.55,247.45 137.10,249.92 137.65,245.59 138.20,250.20 138.75,247.25 139.30,250.06 139.85,246.51 140.40,249.99 140.95,248.30 141.50,249.72 142.05,245.83 142.60,249.74 143.15,248.56 143.70,250.28 144.25,247.98 144.80,250.50 145.35,248.17 145.90,250.23 146.45,244.55 147.00,250.24 147.55,247.03 148.10,250.21 148.65,248.45 149.20,250.31 149.75,246.81 150.30,249.92 150.85,245.13 151.40,250.55 151.95,247.73 152.50,249.78 153.05,249.16 153.60,250.52 154.15,249.04 154.70,250.54 155.25,248.55 155.80,250.29 156.35,248.91 156.90,249.80 157.45,245.70 158.00,250.32 158.55,246.72 159.10,249.94 159.65,248.42 160.00,249.89" fill="none" stroke="#a8083a" stroke-width="1.6" stroke-linejoin="round" />
<line x1="103.1" y1="170.5" x2="111.5" y2="170.5" stroke="#a8083a" stroke-width="1.4"/>
<text x="114.6" y="173.1" font-size="7.9" text-anchor="start" textLength="38.5" lengthAdjust="spacingAndGlyphs" fill="#231f20" stroke="#231f20" stroke-width="0.2" >PKa 100nM</text>
<line x1="103.1" y1="179.7" x2="111.5" y2="179.7" stroke="#62aa3a" stroke-width="1.4"/>
<text x="114.6" y="182.29999999999998" font-size="7.9" text-anchor="start" textLength="34" lengthAdjust="spacingAndGlyphs" fill="#231f20" stroke="#231f20" stroke-width="0.2" >PKa 50nM</text>
<line x1="103.1" y1="188.8" x2="111.5" y2="188.8" stroke="#4b2474" stroke-width="1.4"/>
<text x="114.6" y="191.4" font-size="7.9" text-anchor="start" textLength="34" lengthAdjust="spacingAndGlyphs" fill="#231f20" stroke="#231f20" stroke-width="0.2" >PKa 25nM</text>
<line x1="103.1" y1="197.7" x2="111.5" y2="197.7" stroke="#2f5195" stroke-width="1.4"/>
<text x="114.6" y="200.29999999999998" font-size="7.9" text-anchor="start" textLength="20" lengthAdjust="spacingAndGlyphs" fill="#231f20" stroke="#231f20" stroke-width="0.2" >Buffer</text>
<text x="179.6" y="160.2" font-size="11.8" text-anchor="start" font-weight="bold" fill="#000" stroke="#000" stroke-width="0.35" >E</text>
<line x1="213.3" y1="168" x2="213.3" y2="251.5" stroke="#0a0a0a" stroke-width="1.2"/>
<line x1="209.8" y1="170" x2="213.3" y2="170" stroke="#0a0a0a" stroke-width="1.2"/>
<text x="207" y="173.1" font-size="9.2" text-anchor="end" textLength="13.35" lengthAdjust="spacingAndGlyphs" fill="#231f20" stroke="#231f20" stroke-width="0.28" >200</text>
<line x1="209.8" y1="186.2" x2="213.3" y2="186.2" stroke="#0a0a0a" stroke-width="1.2"/>
<text x="207" y="189.29999999999998" font-size="9.2" text-anchor="end" textLength="13.35" lengthAdjust="spacingAndGlyphs" fill="#231f20" stroke="#231f20" stroke-width="0.28" >160</text>
<line x1="209.8" y1="202.4" x2="213.3" y2="202.4" stroke="#0a0a0a" stroke-width="1.2"/>
<text x="207" y="205.5" font-size="9.2" text-anchor="end" textLength="13.35" lengthAdjust="spacingAndGlyphs" fill="#231f20" stroke="#231f20" stroke-width="0.28" >120</text>
<line x1="209.8" y1="218.6" x2="213.3" y2="218.6" stroke="#0a0a0a" stroke-width="1.2"/>
<text x="207" y="221.7" font-size="9.2" text-anchor="end" textLength="8.9" lengthAdjust="spacingAndGlyphs" fill="#231f20" stroke="#231f20" stroke-width="0.28" >80</text>
<line x1="209.8" y1="234.8" x2="213.3" y2="234.8" stroke="#0a0a0a" stroke-width="1.2"/>
<text x="207" y="237.9" font-size="9.2" text-anchor="end" textLength="8.9" lengthAdjust="spacingAndGlyphs" fill="#231f20" stroke="#231f20" stroke-width="0.28" >40</text>
<line x1="209.8" y1="251" x2="213.3" y2="251" stroke="#0a0a0a" stroke-width="1.2"/>
<text x="207" y="254.1" font-size="9.2" text-anchor="end" textLength="4.45" lengthAdjust="spacingAndGlyphs" fill="#231f20" stroke="#231f20" stroke-width="0.28" >0</text>
<line x1="212.8" y1="251" x2="336.4" y2="251" stroke="#0a0a0a" stroke-width="1.2"/>
<line x1="213.3" y1="251" x2="213.3" y2="254" stroke="#0a0a0a" stroke-width="1.2"/>
<text x="213.3" y="264.1" font-size="9.2" text-anchor="middle" textLength="4.45" lengthAdjust="spacingAndGlyphs" fill="#231f20" stroke="#231f20" stroke-width="0.28" >0</text>
<line x1="243.5" y1="251" x2="243.5" y2="254" stroke="#0a0a0a" stroke-width="1.2"/>
<text x="243.5" y="264.1" font-size="9.2" text-anchor="middle" textLength="8.9" lengthAdjust="spacingAndGlyphs" fill="#231f20" stroke="#231f20" stroke-width="0.28" >30</text>
<line x1="273.6" y1="251" x2="273.6" y2="254" stroke="#0a0a0a" stroke-width="1.2"/>
<text x="273.6" y="264.1" font-size="9.2" text-anchor="middle" textLength="8.9" lengthAdjust="spacingAndGlyphs" fill="#231f20" stroke="#231f20" stroke-width="0.28" >60</text>
<line x1="303.5" y1="251" x2="303.5" y2="254" stroke="#0a0a0a" stroke-width="1.2"/>
<text x="303.5" y="264.1" font-size="9.2" text-anchor="middle" textLength="8.9" lengthAdjust="spacingAndGlyphs" fill="#231f20" stroke="#231f20" stroke-width="0.28" >90</text>
<line x1="333.3" y1="251" x2="333.3" y2="254" stroke="#0a0a0a" stroke-width="1.2"/>
<text x="333.3" y="264.1" font-size="9.2" text-anchor="middle" textLength="13.35" lengthAdjust="spacingAndGlyphs" fill="#231f20" stroke="#231f20" stroke-width="0.28" >120</text>
<text x="275" y="276.7" font-size="9.9" text-anchor="middle" textLength="35.8" lengthAdjust="spacingAndGlyphs" fill="#231f20" stroke="#231f20" stroke-width="0.28" >Time (min)</text>
<text x="189.7" y="208.1" font-size="9.2" text-anchor="middle" textLength="42.4" lengthAdjust="spacingAndGlyphs" fill="#231f20" transform="rotate(-90 189.7 208.1)" stroke="#231f20" stroke-width="0.28">IIa (&#916;RFU/s)</text>
<polyline points="213.30,250.50 214.30,250.62 215.30,250.52 216.30,250.56 217.30,250.52 218.30,250.47 219.30,250.57 220.30,250.52 221.30,250.58 222.30,250.55 223.30,250.60 224.30,250.48 225.30,250.40 226.30,250.39 227.30,250.57 228.30,250.40 229.30,250.55 230.30,250.54 231.30,250.37 232.30,250.59 233.30,250.36 234.30,250.61 235.30,250.60 236.30,250.41 237.30,250.57 238.30,250.57 239.30,250.39 240.30,250.55 241.30,250.39 242.30,250.62 243.30,250.56 244.30,250.64 245.30,250.37 246.30,250.45 247.30,250.54 248.30,250.53 249.30,250.40 250.30,250.62 251.30,250.60 252.30,250.44 253.30,250.39 254.30,250.55 255.30,250.47 256.30,250.55 257.30,250.50 258.30,250.47 259.30,250.36 260.30,250.39 261.30,250.49 262.30,250.57 263.30,250.48 264.30,250.57 265.30,250.51 266.30,250.61 267.30,250.55 268.30,250.45 269.30,250.39 270.30,250.37 271.30,250.36 272.30,250.61 273.30,250.61 274.30,250.58 275.30,250.38 276.30,250.55 277.30,250.39 278.30,250.62 279.30,250.55 280.30,250.57 281.30,250.53 282.30,250.48 283.30,250.60 284.30,250.64 285.30,250.42 286.30,250.48 287.30,250.57 288.30,250.55 289.30,250.47 290.30,250.49 291.30,250.64 292.30,250.43 293.30,250.41 294.30,250.56 295.30,250.43 296.30,250.62 297.30,250.45 298.30,250.63 299.30,250.46 300.30,250.62 301.30,250.58 302.30,250.57 303.30,250.41 304.30,250.40 305.30,250.36 306.30,250.40 307.30,250.55 308.30,250.37 309.30,250.42 310.30,250.52 311.30,250.40 312.30,250.45 313.30,250.42 314.30,250.55 315.30,250.39 316.30,250.65 317.30,250.53 318.30,250.56 319.30,250.52 320.30,250.50 321.30,250.64 322.30,250.62 323.30,250.60 324.30,250.36 325.30,250.53 326.30,250.63 327.30,250.54 328.30,250.50 329.30,250.54 330.30,250.40 331.30,250.57 332.30,250.59 333.00,250.50" fill="none" stroke="#2f5195" stroke-width="1.6" stroke-linejoin="round" />
<polyline points="213.30,250.00 214.30,249.86 215.30,250.12 216.30,250.09 217.30,250.20 218.30,249.80 219.30,249.97 220.30,249.78 221.30,249.87 222.30,250.02 223.30,249.78 224.30,249.87 225.30,250.09 226.30,250.04 227.30,249.88 228.30,250.07 229.30,250.18 230.30,249.78 231.30,250.18 232.30,250.13 233.30,249.95 234.30,249.86 235.30,250.27 236.30,249.96 237.30,249.84 238.30,249.84 239.30,250.22 240.30,250.10 241.30,250.20 242.30,250.16 243.30,250.07 244.30,250.29 245.30,249.99 246.30,250.08 247.30,250.22 248.30,250.12 249.30,250.24 250.30,250.10 251.30,250.17 252.30,249.84 253.30,249.93 254.30,249.96 255.30,249.86 256.30,249.94 257.30,249.87 258.30,249.96 259.30,250.14 260.30,250.01 261.30,250.02 262.30,249.94 263.30,249.97 264.30,250.30 265.30,250.16 266.30,250.14 267.30,249.93 268.30,250.21 269.30,249.93 270.30,250.03 271.30,250.34 272.30,250.17 273.30,250.13 274.30,250.19 275.30,250.28 276.30,250.24 277.30,249.97 278.30,249.87 279.30,250.02 280.30,250.00 281.30,249.97 282.30,250.34 283.30,250.31 284.30,250.03 285.30,250.20 286.30,250.07 287.30,250.33 288.30,250.10 289.30,250.01 290.30,250.00 291.30,250.16 292.30,250.01 293.30,250.18 294.30,250.33 295.30,250.09 296.30,250.00 297.30,250.39 298.30,250.15 299.30,249.94 300.30,249.92 301.30,249.95 302.30,250.21 303.30,250.30 304.30,250.11 305.30,249.94 306.30,250.10 307.30,250.41 308.30,250.17 309.30,250.40 310.30,250.34 311.30,249.92 312.30,250.28 313.30,250.26 314.30,250.19 315.30,250.05 316.30,250.24 317.30,249.98 318.30,250.14 319.30,250.15 320.30,250.41 321.30,250.37 322.30,250.06 323.30,250.18 324.30,250.02 325.30,250.39 326.30,250.37 327.30,250.09 328.30,250.26 329.30,250.25 330.30,250.02 331.30,250.33 332.30,250.22 333.00,250.20" fill="none" stroke="#4b2474" stroke-width="1.6" stroke-linejoin="round" />
<polyline points="213.30,248.80 214.10,248.77 214.90,248.95 215.70,249.05 216.50,248.78 217.30,248.82 218.10,248.44 218.90,248.78 219.70,248.73 220.50,249.12 221.30,248.88 222.10,249.05 222.90,248.80 223.70,248.60 224.50,249.14 225.30,249.12 226.10,248.77 226.90,248.55 227.70,248.89 228.50,248.88 229.30,249.11 230.10,248.97 230.90,248.90 231.70,248.96 232.50,248.81 233.30,248.55 234.10,248.56 234.90,249.27 235.70,249.19 236.50,248.76 237.30,249.24 238.10,248.95 238.90,248.62 239.70,249.23 240.50,249.02 241.30,249.30 242.10,249.10 242.90,248.64 243.70,249.06 244.50,249.20 245.30,249.29 246.10,248.84 246.90,249.01 247.70,249.15 248.50,248.73 249.30,249.27 250.00,249.00 250.10,249.23 250.90,248.65 251.70,249.09 252.50,248.92 253.30,248.78 254.10,249.12 254.90,249.42 255.70,249.10 256.50,248.75 257.30,249.07 258.10,249.30 258.90,249.45 259.70,249.27 260.50,248.73 261.30,249.48 262.10,249.20 262.90,248.79 263.70,248.83 264.50,248.81 265.30,249.28 266.10,248.88 266.90,249.41 267.70,248.86 268.50,249.21 269.30,249.14 270.10,248.82 270.90,248.80 271.70,249.53 272.50,249.60 273.30,248.92 274.10,249.42 274.90,249.63 275.70,249.57 276.50,249.56 277.30,249.13 278.10,249.44 278.90,249.28 279.70,249.64 280.50,249.46 281.30,249.58 282.10,249.60 282.90,249.23 283.70,249.49 284.50,249.01 285.30,249.11 286.10,249.70 286.90,249.28 287.70,249.51 288.50,249.43 289.30,249.19 290.10,249.46 290.90,249.72 291.70,249.26 292.50,249.29 293.30,249.17 294.10,249.17 294.90,249.69 295.70,249.61 296.50,249.82 297.30,249.59 298.10,249.83 298.90,249.25 299.70,249.23 300.50,249.26 301.30,249.40 302.10,249.89 302.90,249.29 303.70,249.48 304.50,249.17 305.30,249.15 306.10,249.58 306.90,249.64 307.70,249.56 308.50,249.90 309.30,249.86 310.10,249.94 310.90,249.65 311.70,249.41 312.50,249.31 313.30,249.82 314.10,249.34 314.90,249.23 315.70,249.79 316.50,249.34 317.30,249.75 318.10,249.42 318.90,249.60 319.70,249.28 320.50,249.58 321.30,249.55 322.10,249.50 322.90,249.41 323.70,249.77 324.50,249.87 325.30,249.49 326.10,249.37 326.90,249.56 327.70,249.91 328.50,249.58 329.30,249.88 330.10,249.43 330.90,249.94 331.70,249.50 332.50,249.57 333.00,249.80" fill="none" stroke="#62aa3a" stroke-width="1.6" stroke-linejoin="round" />
<polyline points="213.30,247.11 213.90,246.93 214.50,247.93 215.10,248.18 215.70,247.78 216.30,247.07 216.90,247.88 217.50,247.36 218.10,247.38 218.70,248.04 219.30,247.90 219.90,246.99 220.50,247.31 221.10,248.39 221.70,247.30 222.30,248.29 222.90,247.72 223.50,248.14 224.10,247.26 224.70,248.38 225.30,247.76 225.90,248.08 226.50,246.85 227.10,248.19 227.70,248.68 228.30,246.93 228.90,248.47 229.50,247.38 230.00,247.37 230.10,246.41 230.70,248.50 231.30,247.77 231.90,247.02 232.50,248.38 233.10,247.71 233.70,246.72 234.30,246.61 234.90,248.74 235.50,248.32 236.10,247.12 236.70,248.38 237.30,246.35 237.90,247.71 238.50,248.61 239.10,247.84 239.70,248.00 240.30,248.06 240.90,248.10 241.50,247.39 242.10,247.39 242.70,248.63 243.30,248.38 243.90,247.91 244.50,249.29 245.00,249.12 245.10,249.35 245.70,248.98 246.30,248.35 246.90,248.55 247.50,248.41 248.10,247.95 248.70,248.65 249.30,249.01 249.90,248.32 250.50,249.04 251.10,249.14 251.70,249.02 252.30,249.12 252.90,248.24 253.50,248.05 254.10,249.04 254.70,248.94 255.30,249.61 255.90,248.89 256.50,247.76 257.10,249.45 257.70,247.60 258.30,249.62 258.90,249.49 259.50,249.64 260.10,248.95 260.70,249.01 261.30,249.63 261.90,248.93 262.50,248.81 263.10,247.09 263.70,247.87 264.30,247.93 264.90,249.49 265.50,249.57 266.10,249.07 266.70,248.62 267.30,249.03 267.90,249.70 268.50,249.59 269.10,248.91 269.70,249.36 270.00,248.80 270.30,247.61 270.90,249.45 271.50,249.65 272.10,249.79 272.70,249.88 273.30,250.04 273.90,249.04 274.50,249.25 275.10,248.75 275.70,249.01 276.30,249.82 276.90,249.54 277.50,249.71 278.10,250.04 278.70,249.68 279.30,250.12 279.90,248.90 280.50,249.56 281.10,248.14 281.70,248.69 282.30,249.20 282.90,248.78 283.50,248.84 284.10,249.04 284.70,249.37 285.30,248.77 285.90,249.66 286.50,249.25 287.10,249.85 287.70,249.71 288.30,249.22 288.90,249.19 289.50,250.06 290.10,249.66 290.70,247.93 291.30,249.75 291.90,248.54 292.50,250.18 293.10,248.29 293.70,249.80 294.30,249.49 294.90,248.10 295.50,249.24 296.10,249.59 296.70,249.55 297.30,248.43 297.90,250.10 298.50,248.87 299.10,249.73 299.70,250.12 300.30,249.70 300.90,249.53 301.50,249.43 302.10,248.84 302.70,249.21 303.30,249.76 303.90,250.24 304.50,248.82 305.10,249.47 305.70,248.84 306.30,249.45 306.90,249.04 307.50,249.41 308.10,249.22 308.70,249.40 309.30,248.92 309.90,249.23 310.50,249.00 311.10,249.29 311.70,249.45 312.30,249.15 312.90,249.07 313.50,249.34 314.10,249.94 314.70,249.45 315.30,248.54 315.90,249.00 316.50,248.36 317.10,249.26 317.70,248.20 318.30,250.08 318.90,249.54 319.50,250.13 320.10,249.80 320.70,249.50 321.30,249.91 321.90,249.90 322.50,249.05 323.10,249.17 323.70,249.39 324.30,248.83 324.90,249.90 325.50,249.89 326.10,249.79 326.70,250.35 327.30,250.02 327.90,250.16 328.50,249.30 329.10,249.77 329.70,249.48 330.30,250.08 330.90,248.13 331.50,248.87 332.10,249.48 332.70,249.02 333.00,249.96 333.30,248.35" fill="none" stroke="#a8083a" stroke-width="1.6" stroke-linejoin="round" />
<line x1="264.2" y1="170" x2="272.6" y2="170" stroke="#a8083a" stroke-width="1.4"/>
<text x="275.7" y="172.6" font-size="7.9" text-anchor="start" textLength="38.5" lengthAdjust="spacingAndGlyphs" fill="#231f20" stroke="#231f20" stroke-width="0.2" >PKa 100nM</text>
<line x1="264.2" y1="179.2" x2="272.6" y2="179.2" stroke="#62aa3a" stroke-width="1.4"/>
<text x="275.7" y="181.79999999999998" font-size="7.9" text-anchor="start" textLength="35.5" lengthAdjust="spacingAndGlyphs" fill="#231f20" stroke="#231f20" stroke-width="0.2" >PKa 50 nM</text>
<line x1="264.2" y1="188.2" x2="272.6" y2="188.2" stroke="#4b2474" stroke-width="1.4"/>
<text x="275.7" y="190.79999999999998" font-size="7.9" text-anchor="start" textLength="34" lengthAdjust="spacingAndGlyphs" fill="#231f20" stroke="#231f20" stroke-width="0.2" >PKa 25nM</text>
<line x1="264.2" y1="197.2" x2="272.6" y2="197.2" stroke="#2f5195" stroke-width="1.4"/>
<text x="275.7" y="199.79999999999998" font-size="7.9" text-anchor="start" textLength="20" lengthAdjust="spacingAndGlyphs" fill="#231f20" stroke="#231f20" stroke-width="0.2" >Buffer</text>
<text x="353" y="160.2" font-size="11.8" text-anchor="start" font-weight="bold" fill="#000" stroke="#000" stroke-width="0.35" >F</text>
<line x1="386" y1="169" x2="386" y2="251.3" stroke="#0a0a0a" stroke-width="1.2"/>
<line x1="382.5" y1="172" x2="386" y2="172" stroke="#0a0a0a" stroke-width="1.2"/>
<text x="379.4" y="175.1" font-size="9.2" text-anchor="end" textLength="4.45" lengthAdjust="spacingAndGlyphs" fill="#231f20" stroke="#231f20" stroke-width="0.28" >4</text>
<line x1="382.5" y1="191.7" x2="386" y2="191.7" stroke="#0a0a0a" stroke-width="1.2"/>
<text x="379.4" y="194.79999999999998" font-size="9.2" text-anchor="end" textLength="4.45" lengthAdjust="spacingAndGlyphs" fill="#231f20" stroke="#231f20" stroke-width="0.28" >3</text>
<line x1="382.5" y1="211.4" x2="386" y2="211.4" stroke="#0a0a0a" stroke-width="1.2"/>
<text x="379.4" y="214.5" font-size="9.2" text-anchor="end" textLength="4.45" lengthAdjust="spacingAndGlyphs" fill="#231f20" stroke="#231f20" stroke-width="0.28" >2</text>
<line x1="382.5" y1="231.1" x2="386" y2="231.1" stroke="#0a0a0a" stroke-width="1.2"/>
<text x="379.4" y="234.2" font-size="9.2" text-anchor="end" textLength="4.45" lengthAdjust="spacingAndGlyphs" fill="#231f20" stroke="#231f20" stroke-width="0.28" >1</text>
<line x1="382.5" y1="250.8" x2="386" y2="250.8" stroke="#0a0a0a" stroke-width="1.2"/>
<text x="379.4" y="253.9" font-size="9.2" text-anchor="end" textLength="4.45" lengthAdjust="spacingAndGlyphs" fill="#231f20" stroke="#231f20" stroke-width="0.28" >0</text>
<line x1="385.5" y1="250.8" x2="503.6" y2="250.8" stroke="#0a0a0a" stroke-width="1.2"/>
<line x1="400.3" y1="250.8" x2="400.3" y2="253.8" stroke="#0a0a0a" stroke-width="1.2"/>
<line x1="429.7" y1="250.8" x2="429.7" y2="253.8" stroke="#0a0a0a" stroke-width="1.2"/>
<line x1="459.4" y1="250.8" x2="459.4" y2="253.8" stroke="#0a0a0a" stroke-width="1.2"/>
<line x1="488.3" y1="250.8" x2="488.3" y2="253.8" stroke="#0a0a0a" stroke-width="1.2"/>
<text x="371.8" y="206.4" font-size="8.9" text-anchor="middle" textLength="35.2" lengthAdjust="spacingAndGlyphs" fill="#231f20" transform="rotate(-90 371.8 206.4)" stroke="#231f20" stroke-width="0.28">FIXa-AT (nM)</text>
<line x1="400.6" y1="188.9" x2="400.6" y2="178.7" stroke="#4d2a6e" stroke-width="1.1"/>
<line x1="395" y1="178.7" x2="405.4" y2="178.7" stroke="#4d2a6e" stroke-width="1.2"/>
<rect x="391.4" y="188.9" width="18.400000000000034" height="61.900000000000006" fill="#4d2a6e" stroke="#3a1f55" stroke-width="0.8"/>
<line x1="430.0" y1="239" x2="430.0" y2="236.8" stroke="#2b4f8a" stroke-width="1.1"/>
<line x1="425.5" y1="236.8" x2="434.5" y2="236.8" stroke="#2b4f8a" stroke-width="1.2"/>
<rect x="420.8" y="239" width="18.399999999999977" height="11.800000000000011" fill="#2b4f8a" stroke="#1f3d6e" stroke-width="0.8"/>
<line x1="459.45" y1="204" x2="459.45" y2="198.2" stroke="#a6073a" stroke-width="1.1"/>
<line x1="455" y1="198.2" x2="464" y2="198.2" stroke="#a6073a" stroke-width="1.2"/>
<rect x="450.2" y="204" width="18.5" height="46.80000000000001" fill="#a6073a" stroke="#8a0530" stroke-width="0.8"/>
<line x1="488.9" y1="247.5" x2="488.9" y2="245.2" stroke="#b7c98c" stroke-width="1.1"/>
<line x1="484.2" y1="245.2" x2="494" y2="245.2" stroke="#b7c98c" stroke-width="1.2"/>
<rect x="479.8" y="247.5" width="18.19999999999999" height="3.3000000000000114" fill="#b7c98c" stroke="#9fb36c" stroke-width="0.8"/>
<line x1="386" y1="250.8" x2="503.6" y2="250.8" stroke="#0a0a0a" stroke-width="1.1"/>
<polyline points="430.4,195.8 430.4,193.4 457.9,193.4 457.9,195.8" fill="none" stroke="#0a0a0a" stroke-width="1"/>
<polyline points="459.6,195.8 459.6,193.4 486.5,193.4 486.5,195.8" fill="none" stroke="#0a0a0a" stroke-width="1"/>
<circle cx="440.8" cy="189.6" r="1.15" fill="#111"/>
<circle cx="444.2" cy="189.6" r="1.15" fill="#111"/>
<circle cx="447.59999999999997" cy="189.6" r="1.15" fill="#111"/>
<circle cx="469.5" cy="189.6" r="1.15" fill="#111"/>
<circle cx="472.9" cy="189.6" r="1.15" fill="#111"/>
<circle cx="476.29999999999995" cy="189.6" r="1.15" fill="#111"/>
<text x="403.9" y="260.3" font-size="8" text-anchor="end" textLength="22.5" lengthAdjust="spacingAndGlyphs" fill="#231f20" transform="rotate(-45 403.9 260.3)" stroke="#231f20" stroke-width="0.28">Kaolin</text>
<text x="433.0" y="260.3" font-size="8" text-anchor="end" textLength="22" lengthAdjust="spacingAndGlyphs" fill="#231f20" transform="rotate(-45 433.0 260.3)" stroke="#231f20" stroke-width="0.28">Buffer</text>
<text x="462.6" y="260.5" font-size="8" text-anchor="end" textLength="47" lengthAdjust="spacingAndGlyphs" fill="#231f20" transform="rotate(-45 462.6 260.5)" stroke="#231f20" stroke-width="0.28">RBC-MV +PK</text>
<text x="492.6" y="260.5" font-size="8" text-anchor="end" textLength="51" lengthAdjust="spacingAndGlyphs" fill="#231f20" transform="rotate(-45 492.6 260.5)" stroke="#231f20" stroke-width="0.28">RBC- MVs -PK</text>
</svg></body></html>
